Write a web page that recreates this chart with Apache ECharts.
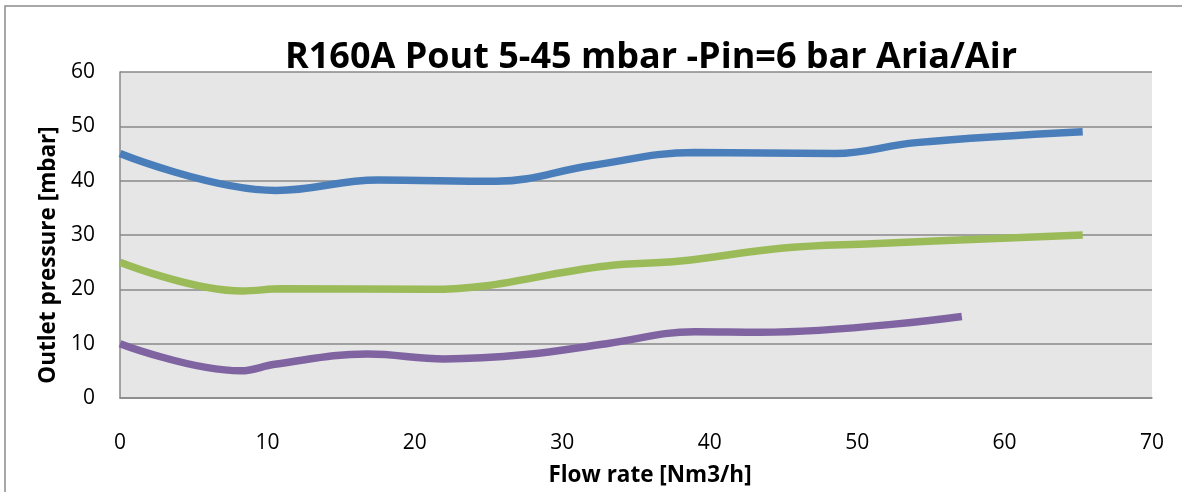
<!DOCTYPE html>
<html>
<head>
<meta charset="utf-8">
<script src="https://cdn.jsdelivr.net/npm/echarts@6/dist/echarts.min.js"></script>
<style>
  html, body { margin: 0; padding: 0; background: #fff; }
  #chart { width: 1182px; height: 492px; }
</style>
</head>
<body>
<div id="chart"></div>
<script>
const titleText = "R160A Pout 5-45 mbar -Pin=6 bar Aria/Air";
const xName = "Flow rate [Nm3/h]";
const yName = "Outlet pressure [mbar]";

// [flow, pressure]
const blueData = [[0, 45], [10.6, 38.2], [17.5, 40.1], [25.5, 39.9], [32, 42.8], [39, 45.2], [48.5, 45], [54, 47], [65.3, 49]];
const greenData = [[0, 25], [8.3, 19.7], [11, 20.1], [21, 20], [33, 24.3], [38, 25.2], [45, 27.6], [51, 28.4], [65.3, 30]];
const purpleData = [[0, 10], [8.2, 5], [10.5, 6.2], [16.8, 8.1], [22, 7.2], [27.5, 8], [33, 10], [39, 12.2], [43.5, 12.1], [57.1, 15]];

const font = "'Open Sans', Lato, sans-serif";
const chart = echarts.init(document.getElementById("chart"));

function line(data, color) {
  return {
    type: "line",
    data,
    smooth: 0.4,
    showSymbol: false,
    lineStyle: { width: 7.5, color, cap: "butt" },
    itemStyle: { color }
  };
}

chart.setOption({
  animation: false,
  textStyle: { fontFamily: font },
  title: {
    text: titleText,
    left: 646,
    textAlign: "center",
    top: 35,
    textStyle: { fontFamily: font, fontSize: 36, fontWeight: "bold", color: "#000" }
  },
  graphic: [
    {
      type: "rect",
      z: -1,
      shape: { x: 5, y: 6, width: 1200, height: 520 },
      style: { fill: null, stroke: "#8c8c8c", lineWidth: 1.5 }
    }
  ],
  grid: {
    left: 120, right: 30, top: 72, bottom: 93,
    show: true, backgroundColor: "#e6e6e6", borderWidth: 0
  },
  xAxis: {
    type: "value",
    min: 0, max: 70, interval: 10,
    name: xName,
    nameLocation: "middle",
    nameGap: 66,
    nameTextStyle: { fontFamily: font, fontSize: 22.5, fontWeight: "bold", color: "#000", padding: [0, 0, 0, 28] },
    axisLine: { show: true, lineStyle: { color: "#888", width: 1.5 } },
    axisTick: { show: false },
    splitLine: { show: false },
    axisLabel: { fontSize: 21, color: "#000", margin: 35 }
  },
  yAxis: {
    type: "value",
    min: 0, max: 60, interval: 10,
    name: yName,
    nameLocation: "middle",
    nameGap: 60,
    nameTextStyle: { fontFamily: font, fontSize: 22.5, fontWeight: "bold", color: "#000", padding: [0, 40, 0, 0] },
    axisLine: { show: true, lineStyle: { color: "#888", width: 1.5 } },
    axisTick: { show: false },
    splitLine: { show: true, lineStyle: { color: "#888", width: 1.5 } },
    axisLabel: { fontSize: 21, color: "#000", margin: 25 }
  },
  series: [
    line(blueData, "#4a7ebb"),
    line(greenData, "#9bbb59"),
    line(purpleData, "#8064a2")
  ]
});
</script>
</body>
</html>
